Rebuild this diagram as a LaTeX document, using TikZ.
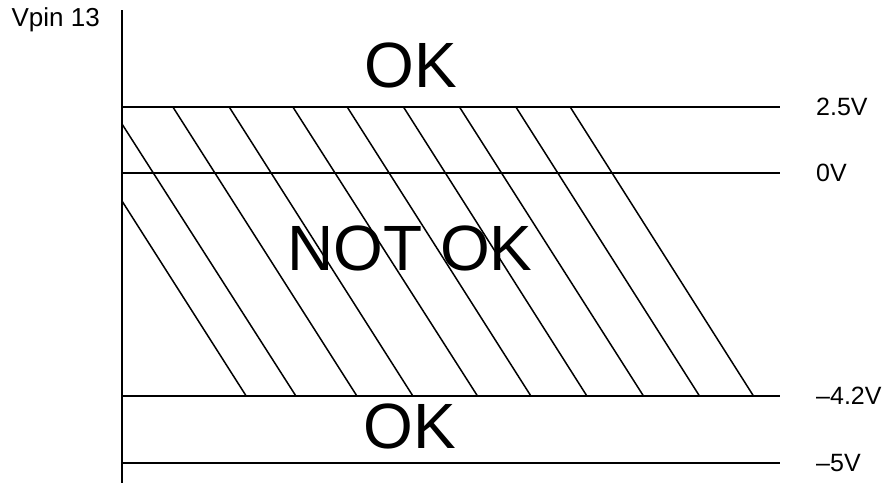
\documentclass[tikz,border=0pt]{standalone}
\usepackage{fontspec}
\setmainfont{Liberation Sans}
\usetikzlibrary{positioning}

\begin{document}
\begin{tikzpicture}[x=1pt,y=-1pt,
  rule/.style={line width=1.6pt},
  hatch/.style={line width=1.5pt},
  big/.style={font=\fontsize{64}{64}\selectfont,inner sep=0pt},
  lvl/.style={font=\fontsize{25}{25}\selectfont,anchor=west,inner sep=0pt}]
  \useasboundingbox (0,0) rectangle (886,485);
  % voltage axis
  \coordinate (atop) at (122,10);
  \coordinate (abot) at (122,483);
  \draw[rule] (atop) -- (abot);
  \node[font=\fontsize{26}{26}\selectfont,anchor=east,inner sep=0pt] (vpin) at (100,19.5) {Vpin 13};
  % levels
  \foreach \y/\lab/\nm in {106.7/2.5V/lvltop,173/0V/lvlzero,395.7/\textendash4.2V/lvllow,462.7/\textendash5V/lvlmin}{
    \coordinate (\nm a) at (122,\y);
    \coordinate (\nm b) at (780,\y);
    \draw[rule] (\nm a) -- (\nm b);
    \node[lvl] (\nm) at (816,\y) {\lab};
  }
  % hatching of the forbidden band
  \foreach \xa/\ya/\xb in {122/201/246,122/124/295.7,172.7/106.7/356.7,229/106.7/412.7,292.7/106.7/477.3,
    347/106.7/530.7,403.3/106.7/586.7,459.3/106.7/643.3,515.7/106.7/699.3,570/106.7/753.3}
    \draw[hatch] (\xa,\ya) -- (\xb,395.7);
  % region labels
  \node[big] (oktop) at (411,65) {OK};
  \node[big] (notok) at (410,248) {NOT OK};
  \node[big] (okbot) at (410,426) {OK};
\end{tikzpicture}
\end{document}
